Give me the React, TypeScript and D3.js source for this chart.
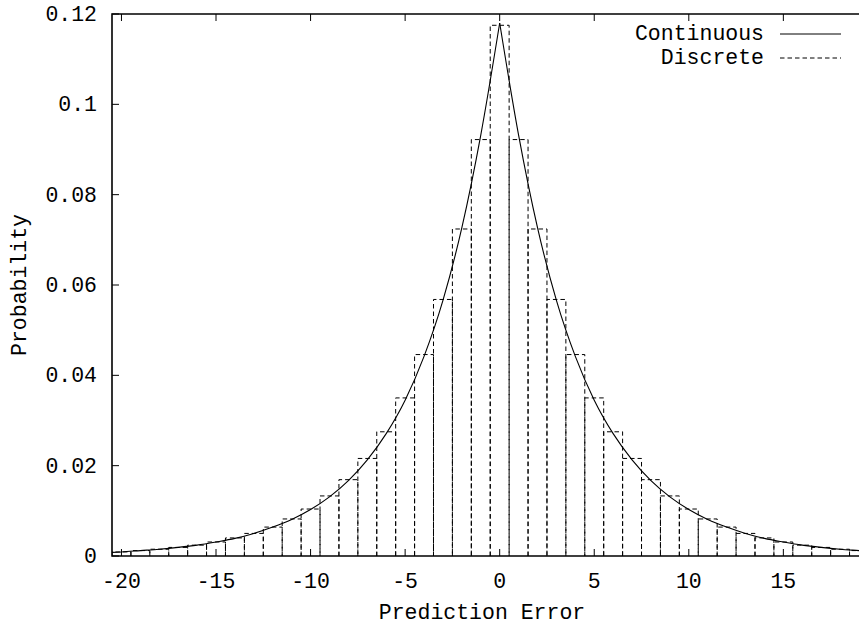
import React, { useEffect, useRef } from "react";
import * as d3 from "d3";

// discrete histogram: prediction error -> probability
const errorBins = [
  -20, -19, -18, -17, -16, -15, -14, -13, -12, -11, -10, -9, -8, -7, -6, -5, -4, -3, -2, -1,
  0, 1, 2, 3, 4, 5, 6, 7, 8, 9, 10, 11, 12, 13, 14, 15, 16, 17, 18, 19,
];
const discreteProb = [
  0.0009, 0.0012, 0.0015, 0.0019, 0.0024, 0.0031, 0.004, 0.005, 0.0064, 0.0082, 0.0104, 0.0133,
  0.0169, 0.0216, 0.0275, 0.035, 0.0446, 0.0568, 0.0724, 0.0922, 0.1175, 0.0922, 0.0724, 0.0568,
  0.0446, 0.035, 0.0275, 0.0216, 0.0169, 0.0133, 0.0104, 0.0082, 0.0064, 0.005, 0.004, 0.0031,
  0.0024, 0.0019, 0.0015, 0.0012,
];

// continuous curve, left and right of the peak
const curveLeftX = [-21, -20, -19, -18, -17, -16, -15, -14, -13, -12, -11, -10, -9, -8, -7, -6, -5, -4, -3, -2, -1, 0];
const curveLeftY = [
  0.0007, 0.0009, 0.0012, 0.0015, 0.0019, 0.0024, 0.0031, 0.0039, 0.005, 0.0064, 0.0081, 0.0103,
  0.0131, 0.0167, 0.0213, 0.0271, 0.0345, 0.0442, 0.0566, 0.0727, 0.0932, 0.118,
];
const curveRightX = [0, 1, 2, 3, 4, 5, 6, 7, 8, 9, 10, 11, 12, 13, 14, 15, 16, 17, 18, 19, 20];
const curveRightY = [
  0.118, 0.0932, 0.0727, 0.0566, 0.0442, 0.0345, 0.0271, 0.0213, 0.0167, 0.0131, 0.0103, 0.0081,
  0.0064, 0.005, 0.0039, 0.0031, 0.0024, 0.0019, 0.0015, 0.0012, 0.0009,
];

const xTicks = [-20, -15, -10, -5, 0, 5, 10, 15];
const yTicks = [0, 0.02, 0.04, 0.06, 0.08, 0.1, 0.12];
const yTickLabels = ["0", "0.02", "0.04", "0.06", "0.08", "0.1", "0.12"];
const legendLabels = ["Continuous", "Discrete"];

const W = 859;
const H = 627;
const FONT = "'Liberation Mono', 'Courier New', monospace";

const App = () => {
  const svgRef = useRef<SVGSVGElement>(null);

  useEffect(() => {
    const svg = d3.select(svgRef.current);
    svg.selectAll("*").remove();

    const left = 112;
    const right = 859;
    const top = 14;
    const bottom = 556;

    const x = d3.scaleLinear().domain([-20.5, 19]).range([left, right]);
    const y = d3.scaleLinear().domain([0, 0.12]).range([bottom, top]);

    svg
      .append("defs")
      .append("clipPath")
      .attr("id", "plotclip")
      .append("rect")
      .attr("x", left)
      .attr("y", top)
      .attr("width", right - left)
      .attr("height", bottom - top);

    const plot = svg.append("g").attr("clip-path", "url(#plotclip)");

    // histogram boxes, drawn up-across-down like gnuplot
    plot
      .append("g")
      .selectAll("path")
      .data(errorBins.map((b, i) => ({ b, p: discreteProb[i] })))
      .join("path")
      .attr("d", (d) => {
        const x1 = x(d.b - 0.5);
        const x2 = x(d.b + 0.5);
        return `M${x1},${y(0)}V${y(d.p)}H${x2}V${y(0)}`;
      })
      .attr("fill", "none")
      .attr("stroke", "#000")
      .attr("stroke-width", 1)
      .attr("stroke-dasharray", "4.5,3");

    // continuous density
    const line = d3
      .line<[number, number]>()
      .x((d) => x(d[0]))
      .y((d) => y(d[1]))
      .curve(d3.curveMonotoneX);

    [
      curveLeftX.map((v, i) => [v, curveLeftY[i]] as [number, number]),
      curveRightX.map((v, i) => [v, curveRightY[i]] as [number, number]),
    ].forEach((pts) => {
      plot
        .append("path")
        .attr("d", line(pts))
        .attr("fill", "none")
        .attr("stroke", "#000")
        .attr("stroke-width", 1.1);
    });

    // border (right side is cut off)
    svg
      .append("path")
      .attr("d", `M${right},${top}H${left}V${bottom}H${right}`)
      .attr("fill", "none")
      .attr("stroke", "#000")
      .attr("stroke-width", 1.6);

    const tickLen = 7;
    const ticks = svg.append("g").attr("stroke", "#000").attr("stroke-width", 1);
    xTicks.forEach((t) => {
      ticks.append("line").attr("x1", x(t)).attr("x2", x(t)).attr("y1", bottom).attr("y2", bottom - tickLen);
      ticks.append("line").attr("x1", x(t)).attr("x2", x(t)).attr("y1", top).attr("y2", top + tickLen);
    });
    yTicks.forEach((t) => {
      ticks.append("line").attr("x1", left).attr("x2", left + tickLen).attr("y1", y(t)).attr("y2", y(t));
    });

    const text = svg
      .append("g")
      .style("font-family", FONT)
      .style("font-size", "21.5px")
      .attr("fill", "#000");

    xTicks.forEach((t) => {
      text
        .append("text")
        .attr("x", x(t))
        .attr("y", 582)
        .attr("text-anchor", "middle")
        .attr("dominant-baseline", "central")
        .text(String(t));
    });
    yTicks.forEach((t, i) => {
      text
        .append("text")
        .attr("x", 97)
        .attr("y", y(t) + 1)
        .attr("text-anchor", "end")
        .attr("dominant-baseline", "central")
        .text(yTickLabels[i]);
    });

    // axis titles
    text
      .append("text")
      .attr("x", 482)
      .attr("y", 613)
      .attr("text-anchor", "middle")
      .attr("dominant-baseline", "central")
      .text("Prediction Error");
    text
      .append("text")
      .attr("transform", `translate(20,${(top + bottom) / 2}) rotate(-90)`)
      .attr("text-anchor", "middle")
      .attr("dominant-baseline", "central")
      .text("Probability");

    // legend
    legendLabels.forEach((lab, i) => {
      const ly = 34 + i * 24;
      text
        .append("text")
        .attr("x", 764)
        .attr("y", ly)
        .attr("text-anchor", "end")
        .attr("dominant-baseline", "central")
        .text(lab);
      svg
        .append("line")
        .attr("x1", 780)
        .attr("x2", 841)
        .attr("y1", ly)
        .attr("y2", ly)
        .attr("stroke", "#000")
        .attr("stroke-width", 1)
        .attr("stroke-dasharray", i === 0 ? null : "4.5,3");
    });
  }, []);

  return (
    <svg
      ref={svgRef}
      width={W}
      height={H}
      style={{ position: "absolute", left: 0, top: 0, background: "#fff" }}
    />
  );
};

export default App;
